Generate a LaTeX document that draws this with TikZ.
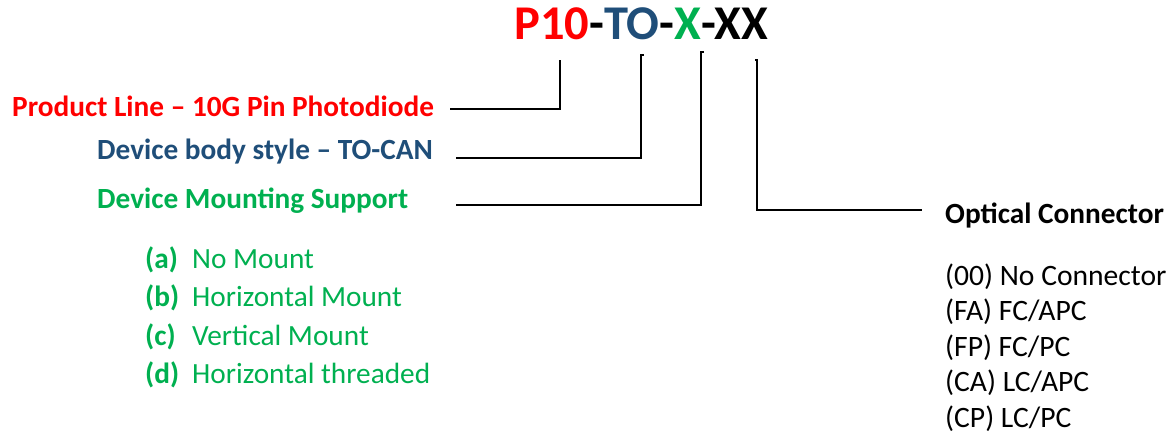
\documentclass[tikz,border=0pt]{standalone}
\usepackage{fontspec}
\setmainfont{Carlito}
\usepackage{tikz}

\definecolor{prodred}{RGB}{255,0,0}
\definecolor{bodyblue}{RGB}{31,78,121}
\definecolor{mountgreen}{RGB}{0,176,80}
\newcommand{\codefont}{\fontsize{48.5}{52}\selectfont\bfseries}
\newcommand{\pnfont}{\fontsize{29.3}{33}\selectfont}
\newcommand{\connfont}{\fontsize{29.6}{34}\selectfont}

\begin{document}
\begin{tikzpicture}[x=1pt,y=-1pt]
        \tikzstyle{every node} = [inner sep=0pt, anchor=base west, font=\pnfont]
        \tikzstyle{lead} = [line width=1.5pt]
        \useasboundingbox (0,0) rectangle (1171,437);

        \node (code) at (514,39) {\codefont\textcolor{prodred}{P10}-\textcolor{bodyblue}{TO}-\textcolor{mountgreen}{X}-XX};
        \coordinate (p10) at (560,60);
        \coordinate (to) at (641,55);
        \coordinate (xa) at (701,52);
        \coordinate (xx) at (757,60);

        \node[text=prodred, font=\pnfont\bfseries] (prod) at (12,116) {Product Line -- 10G Pin Photodiode};
        \node[text=bodyblue, font=\pnfont\bfseries] (body) at (97,159) {Device body style -- TO-CAN};
        \node[text=mountgreen, font=\pnfont\bfseries] (mount) at (97,208) {Device Mounting Support};
        \node[font=\pnfont\bfseries] (optc) at (945,223) {Optical Connector};

        \draw[lead] ([xshift=16pt,yshift=-3pt]prod.east) -| (p10);
        \draw[lead] ([xshift=23pt,yshift=-7pt]body.east) -| (to) -- ++(3,0);
        \draw[lead] ([xshift=48pt,yshift=-5pt]mount.east) -| (xa) -- ++(3,0);
        \draw[lead] ([xshift=-2pt]xx) -- (xx) |- ([xshift=-23pt,yshift=5pt]optc.west);

        \foreach \k/\txt [count=\i from 0] in {a/No Mount, b/Horizontal Mount, c/Vertical Mount, d/Horizontal threaded} {
            \node[text=mountgreen, font=\pnfont\bfseries] (opt\k) at (145, 268+38.5*\i) {(\k)};
            \node[text=mountgreen] (mnt\k) at (192, 268+38.5*\i) {\txt};
        }
        \foreach \txt [count=\i from 0] in {(00) No Connector, (FA) FC/APC, (FP) FC/PC, (CA) LC/APC, (CP) LC/PC}
            \node[font=\connfont] (conn\i) at (945, 285+35.5*\i) {\txt};
\end{tikzpicture}
\end{document}
